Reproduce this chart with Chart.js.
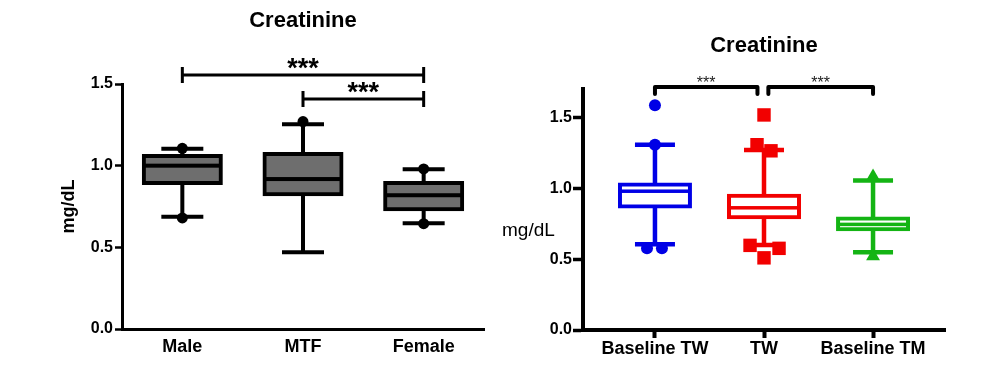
<!DOCTYPE html>
<html><head><meta charset="utf-8">
<script src="https://cdn.jsdelivr.net/npm/chart.js@4.4.1/dist/chart.umd.min.js"></script>
<style>
html,body{margin:0;padding:0;background:#fff;}
#wrap{position:relative;width:991px;height:381px;overflow:hidden;background:#fff;}
#c1{position:absolute;left:0;top:0;}
#c2{position:absolute;left:495px;top:0;}
</style></head><body>
<div id="wrap"><canvas id="c1" width="495" height="381"></canvas><canvas id="c2" width="496" height="381"></canvas></div>
<script>
// ---------- Left panel data ----------
const leftCategories = ['Male', 'MTF', 'Female'];
const leftQ1 = [0.894, 0.825, 0.733];
const leftQ3 = [1.059, 1.072, 0.894];
const leftMedian = [1.00, 0.918, 0.819];
const leftWhiskerLow = [0.688, 0.47, 0.647];
const leftWhiskerHigh = [1.104, 1.253, 0.978];
const leftDotCategory = [0, 0, 1, 2, 2];
const leftDotValue = [1.106, 0.68, 1.27, 0.98, 0.645];
const leftYTicks = [0, 0.5, 1.0, 1.5];
const leftSigFrom = [0, 1];
const leftSigTo = [2, 2];
const leftSigLevel = [1.555, 1.408];
const leftSigLabel = ['***', '***'];

// ---------- Right panel data ----------
const rightCategories = ['Baseline TW', 'TW', 'Baseline TM'];
const rightQ1 = [0.871, 0.796, 0.71];
const rightQ3 = [1.026, 0.947, 0.787];
const rightMedian = [0.979, 0.862, 0.745];
const rightWhiskerLow = [0.604, 0.60, 0.548];
const rightWhiskerHigh = [1.307, 1.27, 1.054];
const baselineTWDotX = [0, 0, -0.073, 0.064];
const baselineTWDotY = [1.585, 1.307, 0.576, 0.576];
const twSquareX = [1, 0.936, 1.064, 0.872, 1.138, 1];
const twSquareY = [1.517, 1.307, 1.264, 0.597, 0.576, 0.509];
const baselineTMTriX = [2, 2];
const baselineTMTriY = [1.082, 0.52];
const rightYTicks = [0, 0.5, 1.0, 1.5];
const rightSigFrom = [0, 1.04];
const rightSigTo = [0.94, 2];
const rightSigLevel = [1.714, 1.714];
const rightSigLabel = ['***', '***'];

Chart.defaults.font.family = "'Liberation Sans', Arial, sans-serif";
Chart.defaults.color = '#000';

function boxPlugin(cfg) {
  return {
    id: 'boxExtras',
    beforeDatasetsDraw(chart) {
      const {ctx, scales: {x, y}} = chart;
      ctx.save();
      ctx.lineCap = 'butt';
      cfg.q1.forEach((q, i) => {
        const px = x.getPixelForValue(i);
        const yh = y.getPixelForValue(cfg.hi[i]);
        const yl = y.getPixelForValue(cfg.lo[i]);
        ctx.strokeStyle = cfg.colors[i];
        ctx.lineWidth = cfg.whiskerWidth;
        ctx.beginPath();
        ctx.moveTo(px, y.getPixelForValue(cfg.q3[i])); ctx.lineTo(px, yh);
        ctx.moveTo(px, y.getPixelForValue(q)); ctx.lineTo(px, yl);
        ctx.moveTo(px - cfg.capHalf, yh); ctx.lineTo(px + cfg.capHalf, yh);
        ctx.moveTo(px - cfg.capHalf, yl); ctx.lineTo(px + cfg.capHalf, yl);
        ctx.stroke();
      });
      ctx.restore();
    },
    afterDatasetDraw(chart, args) {
      if (args.index !== cfg.boxIndex) return;
      const {ctx, scales: {y}} = chart;
      ctx.save();
      args.meta.data.forEach((bar, i) => {
        const p = bar.getProps(['x', 'width'], true);
        const ym = y.getPixelForValue(cfg.median[i]);
        ctx.fillStyle = cfg.colors[i];
        ctx.fillRect(p.x - p.width / 2, ym - cfg.medianWidth / 2, p.width, cfg.medianWidth);
      });
      ctx.restore();
    },
    afterDraw(chart) {
      const {ctx, scales: {x, y}} = chart;
      ctx.save();
      ctx.strokeStyle = '#000';
      ctx.fillStyle = cfg.starColor;
      ctx.lineWidth = cfg.bracketWidth;
      cfg.sigFrom.forEach((f, i) => {
        const x1 = x.getPixelForValue(f), x2 = x.getPixelForValue(cfg.sigTo[i]);
        const yy = y.getPixelForValue(cfg.sigLevel[i]);
        ctx.beginPath();
        if (cfg.bracketStyle === 'T') {
          ctx.lineCap = 'butt';
          ctx.moveTo(x1, yy); ctx.lineTo(x2, yy);
          ctx.moveTo(x1, yy - cfg.tickHalf); ctx.lineTo(x1, yy + cfg.tickHalf);
          ctx.moveTo(x2, yy - cfg.tickHalf); ctx.lineTo(x2, yy + cfg.tickHalf);
        } else {
          ctx.lineJoin = 'round'; ctx.lineCap = 'round';
          ctx.moveTo(x1, yy + cfg.tickDown); ctx.lineTo(x1, yy); ctx.lineTo(x2, yy); ctx.lineTo(x2, yy + cfg.tickDown);
        }
        ctx.stroke();
        ctx.font = cfg.starFont;
        ctx.textAlign = 'center';
        ctx.textBaseline = 'alphabetic';
        ctx.fillText(cfg.sigLabel[i], (x1 + x2) / 2, yy + cfg.starDy);
      });
      if (cfg.sideLabel) {
        ctx.font = cfg.sideLabel.font;
        ctx.fillStyle = '#000';
        ctx.textAlign = 'left';
        ctx.textBaseline = 'middle';
        ctx.fillText(cfg.sideLabel.text, cfg.sideLabel.x, cfg.sideLabel.y);
      }
      ctx.restore();
    }
  };
}

function makeScales(o) {
  return {
    x: {
      type: 'linear', min: o.xMin, max: o.xMax, offset: false,
      afterBuildTicks: s => { s.ticks = o.labels.map((_, i) => ({value: i})); },
      afterFit: s => { s.height = o.xHeight; },
      ticks: { callback: v => o.labels[v], font: {size: 18, weight: 'bold'}, padding: o.xPad, maxRotation: 0, autoSkip: false },
      grid: { display: true, offset: false, drawOnChartArea: false, drawTicks: o.xTicks, tickLength: o.xTickLen, tickWidth: o.axisWidth, tickColor: '#000' },
      border: { display: true, color: '#000', width: o.axisWidth }
    },
    y: {
      type: 'linear', min: 0, max: o.yMax,
      afterBuildTicks: s => { s.ticks = o.yTicks.map(v => ({value: v})); },
      afterFit: s => { s.width = o.yWidth; },
      ticks: { callback: v => Number(v).toFixed(1), font: {size: 16, weight: 'bold'}, padding: o.yPad },
      grid: { display: true, drawOnChartArea: false, drawTicks: true, tickLength: o.yTickLen, tickWidth: o.axisWidth - 0.5, tickColor: '#000' },
      border: { display: true, color: '#000', width: o.axisWidth },
      title: o.yTitle
    }
  };
}

// ---------- Left chart ----------
new Chart(document.getElementById('c1'), {
  type: 'bar',
  data: {
    datasets: [
      {
        type: 'scatter',
        data: leftDotCategory.map((c, i) => ({x: c, y: leftDotValue[i]})),
        pointStyle: 'circle', pointRadius: 5.5, backgroundColor: '#000', borderWidth: 0
      },
      {
        type: 'bar',
        data: leftQ1.map((q, i) => ({x: i, y: [q, leftQ3[i]]})),
        backgroundColor: '#6e6e6e', borderColor: '#000', borderWidth: 4,
        borderSkipped: false, inflateAmount: 2, barThickness: 77
      }
    ]
  },
  options: {
    responsive: false, animation: false, devicePixelRatio: 1,
    layout: { padding: {left: 0, right: 11, top: 0, bottom: 0} },
    plugins: {
      legend: {display: false}, tooltip: {enabled: false},
      title: { display: true, text: 'Creatinine', fullSize: false, color: '#000',
        font: {size: 22, weight: 'bold'}, padding: {top: 8, bottom: 49.6} }
    },
    scales: makeScales({
      xMin: -0.5, xMax: 2.5, labels: leftCategories, xHeight: 52, xPad: 7, xTicks: false, xTickLen: 0,
      axisWidth: 3, yMax: 1.5, yTicks: leftYTicks, yWidth: 122, yPad: 2, yTickLen: 7,
      yTitle: { display: true, text: 'mg/dL', font: {size: 18, weight: 'bold'}, color: '#000', padding: {top: 58, bottom: 0} }
    })
  },
  plugins: [boxPlugin({
    q1: leftQ1, q3: leftQ3, median: leftMedian, lo: leftWhiskerLow, hi: leftWhiskerHigh,
    colors: ['#000', '#000', '#000'], whiskerWidth: 4, capHalf: 21, medianWidth: 4, boxIndex: 1,
    sigFrom: leftSigFrom, sigTo: leftSigTo, sigLevel: leftSigLevel, sigLabel: leftSigLabel,
    bracketStyle: 'T', bracketWidth: 3, tickHalf: 8, starFont: "bold 27px 'Liberation Sans', Arial", starDy: 2, starColor: '#000'
  })]
});

// ---------- Right chart ----------
const rightColors = ['#0000e6', '#f20000', '#14b414'];
new Chart(document.getElementById('c2'), {
  type: 'bar',
  data: {
    datasets: [
      {
        type: 'scatter',
        data: baselineTWDotX.map((v, i) => ({x: v, y: baselineTWDotY[i]})),
        pointStyle: 'circle', pointRadius: 6, backgroundColor: rightColors[0], borderWidth: 0
      },
      {
        type: 'scatter',
        data: twSquareX.map((v, i) => ({x: v, y: twSquareY[i]})),
        pointStyle: 'rect', pointRadius: 9.5, backgroundColor: rightColors[1], borderWidth: 0
      },
      {
        type: 'scatter',
        data: baselineTMTriX.map((v, i) => ({x: v, y: baselineTMTriY[i]})),
        pointStyle: 'triangle', pointRadius: 8, backgroundColor: rightColors[2], borderWidth: 0
      },
      {
        type: 'bar',
        data: rightQ1.map((q, i) => ({x: i, y: [q, rightQ3[i]]})),
        backgroundColor: '#fff', borderColor: rightColors, borderWidth: 4,
        borderSkipped: false, inflateAmount: 2, barThickness: 70
      }
    ]
  },
  options: {
    responsive: false, animation: false, devicePixelRatio: 1,
    layout: { padding: {left: 0, right: 46, top: 0, bottom: 0} },
    plugins: {
      legend: {display: false}, tooltip: {enabled: false},
      title: { display: true, text: 'Creatinine', fullSize: false, color: '#000',
        font: {size: 22, weight: 'bold'}, padding: {top: 33, bottom: 29.6} }
    },
    scales: makeScales({
      xMin: -0.66, xMax: 2.66, labels: rightCategories, xHeight: 51, xPad: 0, xTicks: true, xTickLen: 8,
      axisWidth: 4, yMax: 1.7, yTicks: rightYTicks, yWidth: 88, yPad: 1, yTickLen: 10,
      yTitle: { display: false }
    })
  },
  plugins: [boxPlugin({
    q1: rightQ1, q3: rightQ3, median: rightMedian, lo: rightWhiskerLow, hi: rightWhiskerHigh,
    colors: rightColors, whiskerWidth: 4.5, capHalf: 20, medianWidth: 3.5, boxIndex: 3,
    sigFrom: rightSigFrom, sigTo: rightSigTo, sigLevel: rightSigLevel, sigLabel: rightSigLabel,
    bracketStyle: 'down', bracketWidth: 4, tickDown: 7, starFont: "16px 'Liberation Sans', Arial", starDy: 1, starColor: '#222',
    sideLabel: { text: 'mg/dL', font: "19px 'Liberation Sans', Arial", x: 7, y: 231 }
  })]
});
</script>
</body></html>
